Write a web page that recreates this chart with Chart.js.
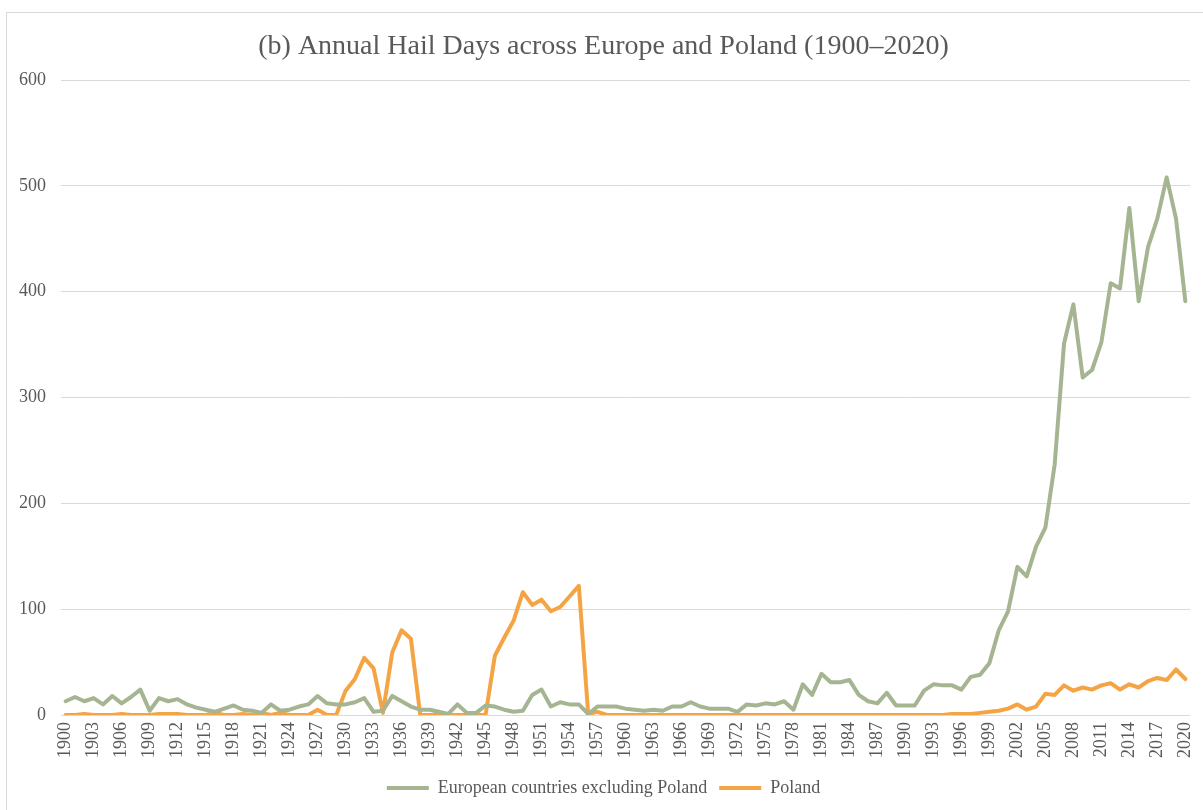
<!DOCTYPE html>
<html>
<head>
<meta charset="utf-8">
<script src="https://cdn.jsdelivr.net/npm/chart.js@4"></script>
<style>
  html, body { margin: 0; padding: 0; background: #fff; }
  #wrap { position: relative; width: 1203px; height: 810px; overflow: hidden; }
  #frame { position: absolute; left: 6px; top: 12px; width: 1210px; height: 820px; border: 1px solid #d9d9d9; box-sizing: border-box; }
  canvas { position: absolute; left: 0; top: 0; }
</style>
</head>
<body>
<div id="wrap">
  <div id="frame"></div>
  <canvas id="c" width="1203" height="810"></canvas>
</div>
<script>
const titleText = "(b) Annual Hail Days across Europe and Poland (1900–2020)";
const years = [];
for (let y = 1900; y <= 2020; y++) years.push(String(y));

const seriesNames = ["European countries excluding Poland", "Poland"];

const europe = [
  13, 17, 13, 16, 10, 18, 11, 17, 24, 4,      // 1900-1909
  16, 13, 15, 10, 7, 5, 3, 6, 9, 5,           // 1910-1919
  4, 2, 10, 4, 5, 8, 10, 18, 11, 10,          // 1920-1929
  10, 12, 16, 3, 4, 18, 13, 8, 5, 5,          // 1930-1939
  3, 1, 10, 2, 2, 9, 8, 5, 3, 4,              // 1940-1949
  19, 24, 8, 12, 10, 10, 1, 8, 8, 8,          // 1950-1959
  6, 5, 4, 5, 4, 8, 8, 12, 8, 6,              // 1960-1969
  6, 6, 3, 10, 9, 11, 10, 13, 5, 29,          // 1970-1979
  19, 39, 31, 31, 33, 19, 13, 11, 21, 9,      // 1980-1989
  9, 9, 23, 29, 28, 28, 24, 36, 38, 49,       // 1990-1999
  80, 98, 140, 131, 159, 177, 237, 351, 388, 319, // 2000-2009
  326, 352, 408, 403, 479, 391, 442, 469, 508, 469, // 2010-2019
  391                                          // 2020
];

const poland = [
  0, 0, 1, 0, 0, 0, 1, 0, 0, 0,               // 1900-1909
  1, 1, 1, 0, 0, 0, 2, 0, 0, 1,               // 1910-1919
  0, 2, 0, 2, 0, 0, 0, 5, 0, 0,               // 1920-1929
  23, 34, 54, 44, 2, 59, 80, 72, 0, 0,        // 1930-1939
  0, 0, 0, 0, 0, 0, 56, 73, 89, 116,          // 1940-1949
  104, 109, 98, 102, 112, 122, 1, 3, 0, 0,    // 1950-1959
  0, 0, 0, 0, 0, 0, 0, 0, 0, 0,               // 1960-1969
  0, 0, 0, 0, 0, 0, 0, 0, 0, 0,               // 1970-1979
  0, 0, 0, 0, 0, 0, 0, 0, 0, 0,               // 1980-1989
  0, 0, 0, 0, 0, 1, 1, 1, 2, 3,               // 1990-1999
  4, 6, 10, 5, 8, 20, 19, 28, 23, 26,         // 2000-2009
  24, 28, 30, 24, 29, 26, 32, 35, 33, 43,     // 2010-2019
  34                                           // 2020
];

const yTicks = [0, 100, 200, 300, 400, 500, 600];

const GREEN = "#A5B592";
const ORANGE = "#F5A445";
const TEXT = "#595959";
const FONT = "'Liberation Serif', 'Times New Roman', serif";

new Chart(document.getElementById("c"), {
  type: "line",
  data: {
    labels: years,
    datasets: [
      { label: seriesNames[0], data: europe, borderColor: GREEN, backgroundColor: GREEN,
        borderWidth: 4, pointRadius: 0, tension: 0, borderJoinStyle: "round", borderCapStyle: "round" },
      { label: seriesNames[1], data: poland, borderColor: ORANGE, backgroundColor: ORANGE,
        borderWidth: 4, pointRadius: 0, tension: 0, borderJoinStyle: "round", borderCapStyle: "round" }
    ]
  },
  options: {
    responsive: false,
    animation: false,
    devicePixelRatio: 1,
    layout: { padding: { left: 17, right: 13, top: 0, bottom: 3 } },
    plugins: {
      title: {
        display: true,
        text: titleText,
        color: TEXT,
        font: { family: FONT, size: 28, weight: "normal" },
        padding: { top: 30, bottom: 16.4 }
      },
      legend: {
        position: "bottom",
        labels: {
          color: TEXT,
          font: { family: FONT, size: 18 },
          boxWidth: 42,
          boxHeight: 4,
          padding: 12,
          generateLabels: (chart) => Chart.defaults.plugins.legend.labels.generateLabels(chart)
            .map(l => Object.assign(l, { lineWidth: 0, fillStyle: l.strokeStyle }))
        }
      },
      tooltip: { enabled: false }
    },
    scales: {
      x: {
        offset: true,
        grid: { display: false, drawTicks: false },
        border: { display: false },
        ticks: {
          autoSkip: false,
          maxRotation: 90,
          minRotation: 90,
          padding: 7,
          color: TEXT,
          font: { family: FONT, size: 18 },
          callback: function (value, index) { return index % 3 === 0 ? this.getLabelForValue(value) : ""; }
        },
        afterFit: (s) => { s.height = 52; s.paddingLeft = 0; s.paddingRight = 0; }
      },
      y: {
        min: 0,
        max: 600,
        afterBuildTicks: (s) => { s.ticks = yTicks.map(v => ({ value: v })); },
        grid: { color: "#d9d9d9", lineWidth: 1, drawTicks: false },
        border: { display: false },
        ticks: {
          padding: 15,
          color: TEXT,
          font: { family: FONT, size: 18 }
        },
        afterFit: (s) => { s.width = 44; s.paddingTop = 0; s.paddingBottom = 0; }
      }
    }
  }
});
</script>
</body>
</html>
